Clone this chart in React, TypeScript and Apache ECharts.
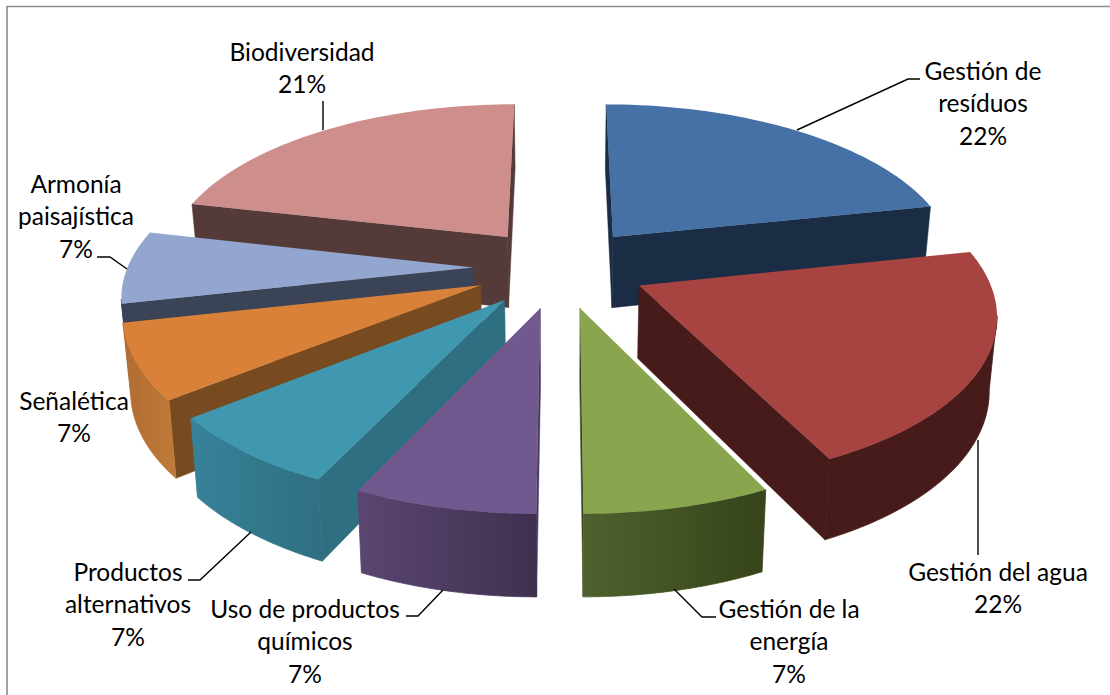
import React, { useEffect, useRef } from "react";
import * as echarts from "echarts";

const names = [
  ["Gestión de", "resíduos"],
  ["Gestión del agua"],
  ["Gestión de la", "energía"],
  ["Uso de productos", "químicos"],
  ["Productos", "alternativos"],
  ["Señalética"],
  ["Armonía", "paisajística"],
  ["Biodiversidad"],
];
const values = [22, 22, 7, 7, 7, 7, 7, 21];
const topColors = ["#4671a6", "#a74442", "#89a54e", "#71588f", "#4097b0", "#d98139", "#92a6cf", "#cd8e8c"];
const wallColors = ["#1b2d44", "#461b19", "#3a481f", "#4a3860", "#2f6f82", "#784a20", "#3b4356", "#553a3a"];
const arcStart = ["#1b2d44", "#461b19", "#364419", "#3f3050", "#2f6f82", "#c07a38", "#3b4356", "#553a3a"];
const arcEnd = ["#1b2d44", "#461b19", "#4f612e", "#5a4670", "#368299", "#b06c32", "#3b4356", "#553a3a"];
const drawOrder = [7, 0, 6, 5, 4, 3, 2, 1];
// the view's foreshortening of each slice boundary, in degrees (start of slice i)
const viewSkew = [0, -1.2, -4.3, -3.55, -3.4, -2.7, -1.8, -1.5, 0];

const labelBoxes = [
  { x: 983, y: 54, lead: [[797, 130], [908, 79], [920, 79]] },
  { x: 998, y: 555, lead: [[978, 440], [978, 555]] },
  { x: 789, y: 592, lead: [[674, 589], [702, 617], [716, 617]] },
  { x: 305, y: 592, lead: [[443, 590], [418, 616], [406, 616]] },
  { x: 128, y: 555, lead: [[251, 532], [200, 580], [188, 580]] },
  { x: 74, y: 384, lead: [] },
  { x: 76, y: 167, lead: [[97, 257], [110, 257], [127, 269]] },
  { x: 302, y: 35, lead: [[323, 101], [323, 130]] },
];

const CX = 560, CY = 267.5, A = 346, B = 161, P = 0.15, H = 72, EXPLODE = 0.25, CONV = 0.982;

function project(X: number, Z: number, down: boolean) {
  const w = 1 - P * Z;
  const x = CX + (A * X) / w;
  const y = CY + (B * Z) / w;
  if (!down) return [x, y];
  return [CX + (x - CX) * CONV, y + H / Math.pow(w, 0.7)];
}

function sliceGeometry(index: number) {
  const total = values.reduce((a, b) => a + b, 0);
  const before = values.slice(0, index).reduce((a, b) => a + b, 0);
  const rad = Math.PI / 180;
  const t0 = (before / total) * Math.PI * 2 + viewSkew[index] * rad;
  const t1 = ((before + values[index]) / total) * Math.PI * 2 + viewSkew[index + 1] * rad;
  const mid = (t0 + t1) / 2;
  const X0 = EXPLODE * Math.sin(mid);
  const Z0 = -EXPLODE * Math.cos(mid);
  const steps = 48;
  const arc: number[][] = [];
  for (let s = 0; s <= steps; s++) {
    const t = t0 + ((t1 - t0) * s) / steps;
    arc.push([X0 + Math.sin(t), Z0 - Math.cos(t)]);
  }
  return { apex: [X0, Z0], arc };
}

function renderSlice(params: any) {
  const i = params.dataIndex;
  const { apex, arc } = sliceGeometry(i);
  const rank = drawOrder.indexOf(i) * 10;
  const children: any[] = [];
  const wall = (a: number[], b: number[], z: number) => {
    const pa = project(a[0], a[1], false);
    const pb = project(b[0], b[1], false);
    if (pb[0] >= pa[0]) return;
    children.push({
      type: "polygon",
      z2: rank + z,
      shape: { points: [pa, pb, project(b[0], b[1], true), project(a[0], a[1], true)] },
      style: { fill: wallColors[i], stroke: wallColors[i], lineWidth: 0.5 },
    });
  };
  wall(apex, arc[0], 1);
  wall(arc[arc.length - 1], apex, 1);
  // visible run of the curved rim
  const tops: number[][] = [];
  const bottoms: number[][] = [];
  for (let s = 0; s < arc.length - 1; s++) {
    const p = project(arc[s][0], arc[s][1], false);
    const q = project(arc[s + 1][0], arc[s + 1][1], false);
    if (q[0] < p[0]) {
      if (!tops.length) {
        tops.push(p);
        bottoms.push(project(arc[s][0], arc[s][1], true));
      }
      tops.push(q);
      bottoms.push(project(arc[s + 1][0], arc[s + 1][1], true));
    }
  }
  if (tops.length > 1) {
    const rim = new echarts.graphic.LinearGradient(0, 0, 1, 0, [
      { offset: 0, color: arcEnd[i] },
      { offset: 1, color: arcStart[i] },
    ]);
    children.push({
      type: "polygon",
      z2: rank + 2,
      shape: { points: tops.concat(bottoms.reverse()) },
      style: { fill: rim, stroke: rim, lineWidth: 0.8 },
    });
  }
  children.push({
    type: "polygon",
    z2: rank + 3,
    shape: { points: [apex, ...arc].map((p) => project(p[0], p[1], false)) },
    style: { fill: topColors[i] },
  });
  return { type: "group", children };
}

const FONT = "Lato";
const LINE = 32.5;

export default function App() {
  const ref = useRef<HTMLDivElement>(null);
  useEffect(() => {
    const chart = echarts.init(ref.current!, undefined, { renderer: "svg" });
    const graphics: any[] = [
      { type: "polyline", z: 1, shape: { points: [[7, 695], [7, 6.5], [1110, 6.5]] }, style: { fill: "none", stroke: "#8c8c8c", lineWidth: 1.6 } },
    ];
    values.forEach((v, i) => {
      const box = labelBoxes[i];
      graphics.push({
        type: "text",
        z: 5,
        x: box.x,
        y: box.y,
        style: {
          text: [...names[i], v + "%"].join("\n"),
          font: `24.5px ${FONT}`,
          lineHeight: LINE,
          fill: "#000000",
          align: "center",
          verticalAlign: "top",
        },
      });
      if (box.lead.length) {
        graphics.push({
          type: "polyline",
          z: 5,
          shape: { points: box.lead },
          style: { fill: "none", stroke: "#000000", lineWidth: 1.4 },
        });
      }
    });
    chart.setOption({
      animation: false,
      backgroundColor: "#ffffff",
      graphic: graphics,
      series: [
        {
          type: "custom",
          coordinateSystem: "none",
          silent: true,
          clip: false,
          data: values,
          renderItem: renderSlice,
        },
      ],
    });
    return () => chart.dispose();
  }, []);
  return <div ref={ref} style={{ position: "fixed", left: 0, top: 0, width: 1110, height: 695 }} />;
}
